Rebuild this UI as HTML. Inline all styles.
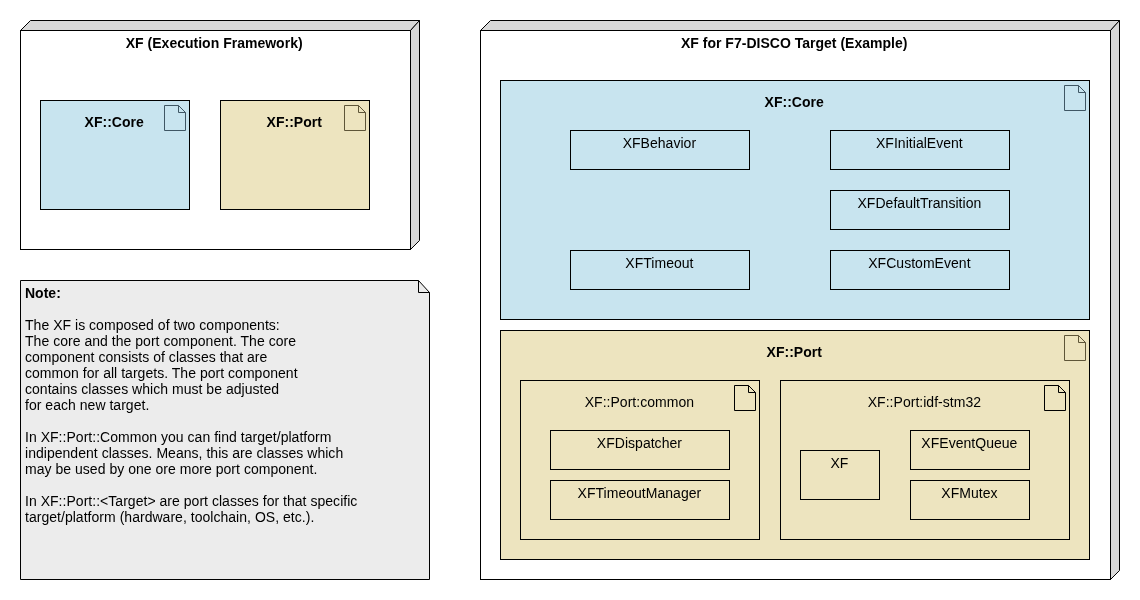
<!DOCTYPE html>
<html><head><meta charset="utf-8"><style>
html,body{margin:0;padding:0;background:#fff;width:1140px;height:600px;overflow:hidden}
svg{display:block;font-variant-ligatures:none;transform:translateZ(0);font-family:"Liberation Sans",sans-serif;font-size:14px;fill:#000}
text{fill:#000;letter-spacing:0.03px} text[font-weight]{letter-spacing:0.01px} rect{shape-rendering:crispEdges}
</style></head><body>
<svg width="1140" height="600" viewBox="0 0 1140 600">
<polygon points="20.5,30.5 30.5,20.5 419.5,20.5 410.5,30.5" fill="#d8d8d8" stroke="#000" stroke-linejoin="miter"/><polygon points="410.5,30.5 419.5,20.5 419.5,240.5 410.5,249.5" fill="#d8d8d8" stroke="#000"/><rect x="20.5" y="30.5" width="390" height="219" fill="#fff" stroke="#000"/>
<text x="214.2" y="48" text-anchor="middle" font-weight="bold">XF (Execution Framework)</text>
<rect x="40.5" y="100.5" width="149" height="109" fill="#c8e4ef" stroke="#000"/>
<path d="M164.5,105.5 H178.5 L185.5,112.5 V130.5 H164.5 Z" fill="#c8e4ef" stroke="#3f5664"/><path d="M178.5,105.5 V112.5 H185.5" fill="none" stroke="#3f5664"/>
<text x="114.2" y="127" text-anchor="middle" font-weight="bold">XF::Core</text>
<rect x="220.5" y="100.5" width="149" height="109" fill="#ede4bf" stroke="#000"/>
<path d="M344.5,105.5 H358.5 L365.5,112.5 V130.5 H344.5 Z" fill="#ede4bf" stroke="#5e5538"/><path d="M358.5,105.5 V112.5 H365.5" fill="none" stroke="#5e5538"/>
<text x="294.2" y="127" text-anchor="middle" font-weight="bold">XF::Port</text>
<path d="M20.5,280.5 H418.5 L429.5,292.5 V579.5 H20.5 Z" fill="#ececec" stroke="#000"/>
<path d="M418.5,280.5 V292.5 H429.5" fill="none" stroke="#000"/>
<text x="25" y="298" text-anchor="start" font-weight="bold">Note:</text>
<text x="25" y="330" text-anchor="start">The XF is composed of two components:</text>
<text x="25" y="346" text-anchor="start">The core and the port component. The core</text>
<text x="25" y="362" text-anchor="start">component consists of classes that are</text>
<text x="25" y="378" text-anchor="start">common for all targets. The port component</text>
<text x="25" y="394" text-anchor="start">contains classes which must be adjusted</text>
<text x="25" y="410" text-anchor="start">for each new target.</text>
<text x="25" y="442" text-anchor="start">In XF::Port::Common you can find target/platform</text>
<text x="25" y="458" text-anchor="start">indipendent classes. Means, this are classes which</text>
<text x="25" y="474" text-anchor="start">may be used by one ore more port component.</text>
<text x="25" y="506" text-anchor="start">In XF::Port::&lt;Target&gt; are port classes for that specific</text>
<text x="25" y="522" text-anchor="start">target/platform (hardware, toolchain, OS, etc.).</text>
<polygon points="480.5,30.5 490.5,20.5 1119.5,20.5 1110.5,30.5" fill="#d8d8d8" stroke="#000" stroke-linejoin="miter"/><polygon points="1110.5,30.5 1119.5,20.5 1119.5,570.5 1110.5,579.5" fill="#d8d8d8" stroke="#000"/><rect x="480.5" y="30.5" width="630" height="549" fill="#fff" stroke="#000"/>
<text x="794.2" y="48" text-anchor="middle" font-weight="bold">XF for F7-DISCO Target (Example)</text>
<rect x="500.5" y="80.5" width="589" height="239" fill="#c8e4ef" stroke="#000"/>
<path d="M1064.5,85.5 H1078.5 L1085.5,92.5 V110.5 H1064.5 Z" fill="#c8e4ef" stroke="#3f5664"/><path d="M1078.5,85.5 V92.5 H1085.5" fill="none" stroke="#3f5664"/>
<text x="794.2" y="107" text-anchor="middle" font-weight="bold">XF::Core</text>
<rect x="570.5" y="130.5" width="179" height="39" fill="#c8e4ef" stroke="#000"/><text x="659.4" y="148" text-anchor="middle">XFBehavior</text>
<rect x="830.5" y="130.5" width="179" height="39" fill="#c8e4ef" stroke="#000"/><text x="919.4" y="148" text-anchor="middle">XFInitialEvent</text>
<rect x="830.5" y="190.5" width="179" height="39" fill="#c8e4ef" stroke="#000"/><text x="919.4" y="208" text-anchor="middle">XFDefaultTransition</text>
<rect x="570.5" y="250.5" width="179" height="39" fill="#c8e4ef" stroke="#000"/><text x="659.4" y="268" text-anchor="middle">XFTimeout</text>
<rect x="830.5" y="250.5" width="179" height="39" fill="#c8e4ef" stroke="#000"/><text x="919.4" y="268" text-anchor="middle">XFCustomEvent</text>
<rect x="500.5" y="330.5" width="589" height="229" fill="#ede4bf" stroke="#000"/>
<path d="M1064.5,335.5 H1078.5 L1085.5,342.5 V360.5 H1064.5 Z" fill="#ede4bf" stroke="#5e5538"/><path d="M1078.5,335.5 V342.5 H1085.5" fill="none" stroke="#5e5538"/>
<text x="794.2" y="357" text-anchor="middle" font-weight="bold">XF::Port</text>
<rect x="520.5" y="380.5" width="239" height="159" fill="#ede4bf" stroke="#000"/>
<path d="M734.5,385.5 H748.5 L755.5,392.5 V410.5 H734.5 Z" fill="#ede4bf" stroke="#000"/><path d="M748.5,385.5 V392.5 H755.5" fill="none" stroke="#000"/>
<text x="639.4" y="407" text-anchor="middle">XF::Port:common</text>
<rect x="550.5" y="430.5" width="179" height="39" fill="#ede4bf" stroke="#000"/><text x="639.4" y="448" text-anchor="middle">XFDispatcher</text>
<rect x="550.5" y="480.5" width="179" height="39" fill="#ede4bf" stroke="#000"/><text x="639.4" y="498" text-anchor="middle">XFTimeoutManager</text>
<rect x="780.5" y="380.5" width="289" height="159" fill="#ede4bf" stroke="#000"/>
<path d="M1044.5,385.5 H1058.5 L1065.5,392.5 V410.5 H1044.5 Z" fill="#ede4bf" stroke="#000"/><path d="M1058.5,385.5 V392.5 H1065.5" fill="none" stroke="#000"/>
<text x="924.4" y="407" text-anchor="middle">XF::Port:idf-stm32</text>
<rect x="800.5" y="450.5" width="79" height="49" fill="#ede4bf" stroke="#000"/><text x="839.4" y="468" text-anchor="middle">XF</text>
<rect x="910.5" y="430.5" width="119" height="39" fill="#ede4bf" stroke="#000"/><text x="969.4" y="448" text-anchor="middle">XFEventQueue</text>
<rect x="910.5" y="480.5" width="119" height="39" fill="#ede4bf" stroke="#000"/><text x="969.4" y="498" text-anchor="middle">XFMutex</text>
</svg>
</body></html>
